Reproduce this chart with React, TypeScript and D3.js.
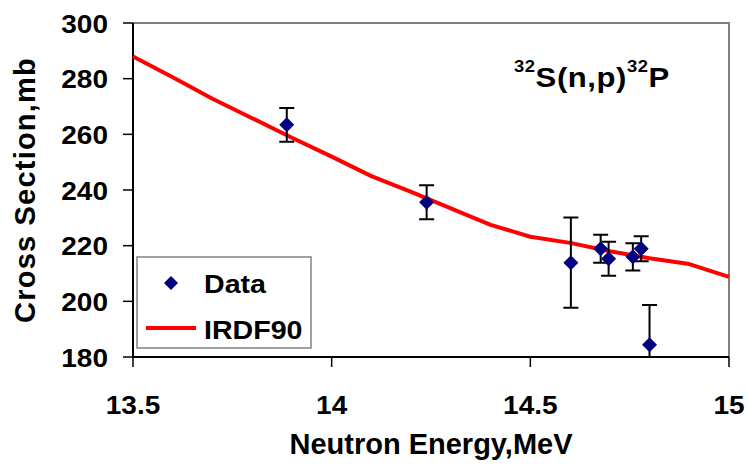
import React, { useRef, useEffect } from 'react';
import { select, scaleLinear, line } from 'd3';

// measured points: energy (MeV), cross section (mb), error (mb)
const energies = [13.887, 14.239, 14.602, 14.677, 14.697, 14.758, 14.779, 14.8];
const sigma = [263.4, 235.6, 213.9, 218.9, 215.3, 216.0, 218.9, 184.4];
const errors = [6.1, 6.1, 16.2, 5.0, 6.1, 4.9, 4.5, 14.3];

// IRDF90 evaluation
const evalEnergies = [13.5, 13.6, 13.7, 13.8, 13.9, 14.0, 14.1, 14.2, 14.3, 14.4, 14.5, 14.6, 14.7, 14.8, 14.9, 15.0];
const evalSigma = [288, 280.5, 272.8, 265.8, 258.8, 252, 245, 239.3, 233.4, 227.5, 223.2, 221, 218, 215.5, 213.4, 208.8];

const xTicks = [13.5, 14, 14.5, 15];
const yTicks = [180, 200, 220, 240, 260, 280, 300];

const W = 748;
const H = 466;
const margin = { left: 133, right: 19, top: 23, bottom: 109 };
const FONT = '"Liberation Sans", Arial, sans-serif';
const SX = 1.12; // reference glyphs are a bit wide

function CrossSectionChart() {
  const svgRef = useRef<SVGSVGElement>(null);

  useEffect(() => {
    const svg = select(svgRef.current);
    svg.selectAll('*').remove();

    const x = scaleLinear().domain([13.5, 15]).range([margin.left, W - margin.right]);
    const y = scaleLinear().domain([180, 300]).range([H - margin.bottom, margin.top]);
    const x0 = x(13.5), x1 = x(15), y0 = y(180), y1 = y(300);

    svg.append('clipPath').attr('id', 'plotclip')
      .append('rect').attr('x', x0).attr('y', y1).attr('width', x1 - x0).attr('height', y0 - y1);

    // plot frame (grey top/right)
    svg.append('path')
      .attr('d', `M${x0},${y1}H${x1}V${y0}`)
      .attr('fill', 'none').attr('stroke', '#808080').attr('stroke-width', 2);

    // axes
    svg.append('line').attr('x1', x0).attr('x2', x0).attr('y1', y1).attr('y2', y0)
      .attr('stroke', '#000').attr('stroke-width', 2);
    svg.append('line').attr('x1', x0 - 1).attr('x2', x1).attr('y1', y0).attr('y2', y0)
      .attr('stroke', '#000').attr('stroke-width', 2);

    // y ticks + labels
    svg.selectAll('.ytick').data(yTicks).join('line')
      .attr('class', 'ytick')
      .attr('x1', x0 - 10).attr('x2', x0)
      .attr('y1', d => y(d)).attr('y2', d => y(d))
      .attr('stroke', '#000').attr('stroke-width', 1.5);
    svg.selectAll('.ylabel').data(yTicks).join('text')
      .attr('class', 'ylabel')
      .attr('transform', d => `translate(108,${y(d) + 9.5}) scale(${SX},1)`)
      .attr('text-anchor', 'end')
      .style('font', `bold 25px ${FONT}`)
      .text(d => d);

    // x ticks + labels
    svg.selectAll('.xtick').data(xTicks).join('line')
      .attr('class', 'xtick')
      .attr('x1', d => x(d)).attr('x2', d => x(d))
      .attr('y1', y0).attr('y2', y0 + 10)
      .attr('stroke', '#000').attr('stroke-width', 1.5);
    svg.selectAll('.xlabel').data(xTicks).join('text')
      .attr('class', 'xlabel')
      .attr('transform', d => `translate(${x(d)},414) scale(${SX},1)`)
      .attr('text-anchor', 'middle')
      .style('font', `bold 25px ${FONT}`)
      .text(d => d);

    // axis titles
    svg.append('text')
      .attr('x', 431).attr('y', 454)
      .attr('text-anchor', 'middle')
      .style('font', `bold 29px ${FONT}`)
      .text('Neutron Energy,MeV');
    svg.append('text')
      .attr('transform', `translate(35,${(y0 + y1) / 2}) rotate(-90)`)
      .attr('text-anchor', 'middle')
      .attr('letter-spacing', 1.2)
      .style('font', `bold 29px ${FONT}`)
      .text('Cross Section,mb');

    // evaluation curve
    const curve = line<number>()
      .x((d, i) => x(evalEnergies[i]))
      .y(d => y(d));
    svg.append('path')
      .datum(evalSigma)
      .attr('d', curve)
      .attr('fill', 'none').attr('stroke', '#ff0000').attr('stroke-width', 4)
      .attr('stroke-linejoin', 'round');

    // error bars
    const bars = svg.append('g').attr('clip-path', 'url(#plotclip)');
    const idx = energies.map((e, i) => i);
    bars.selectAll('.err').data(idx).join('path')
      .attr('class', 'err')
      .attr('d', i => {
        const cx = x(energies[i]);
        const top = y(sigma[i] + errors[i]);
        const bot = y(sigma[i] - errors[i]);
        return `M${cx},${top}V${bot}M${cx - 7.5},${top}H${cx + 7.5}M${cx - 7.5},${bot}H${cx + 7.5}`;
      })
      .attr('fill', 'none').attr('stroke', '#000').attr('stroke-width', 2);

    // data diamonds
    const diamond = (cx: number, cy: number, r: number) =>
      `M${cx},${cy - r}L${cx + r},${cy}L${cx},${cy + r}L${cx - r},${cy}Z`;
    svg.selectAll('.pt').data(idx).join('path')
      .attr('class', 'pt')
      .attr('d', i => diamond(x(energies[i]), y(sigma[i]), 7.5))
      .attr('fill', '#000080');

    // reaction label
    const title = svg.append('text')
      .attr('transform', `translate(514,87) scale(1.15,1)`)
      .attr('letter-spacing', 0.5)
      .style('font', `bold 27px ${FONT}`);
    title.append('tspan').attr('font-size', 16).attr('dy', -15).text('32');
    title.append('tspan').attr('dy', 15).text('S(n,p)');
    title.append('tspan').attr('font-size', 16).attr('dy', -15).text('32');
    title.append('tspan').attr('dy', 15).text('P');

    // legend
    const lg = svg.append('g');
    lg.append('rect')
      .attr('x', 137).attr('y', 257).attr('width', 174).attr('height', 91)
      .attr('fill', '#fff').attr('stroke', '#808080').attr('stroke-width', 1.5);
    lg.append('path').attr('d', diamond(171, 283, 7)).attr('fill', '#000080');
    lg.append('line').attr('x1', 146).attr('x2', 196).attr('y1', 328).attr('y2', 328)
      .attr('stroke', '#ff0000').attr('stroke-width', 4);
    lg.append('text').attr('transform', `translate(204,293) scale(1.1,1)`)
      .style('font', `bold 26px ${FONT}`).text('Data');
    lg.append('text').attr('transform', `translate(204,339) scale(1.1,1)`)
      .style('font', `bold 26px ${FONT}`).text('IRDF90');
  }, []);

  return (
    <svg
      ref={svgRef}
      width={W}
      height={H}
      style={{ position: 'absolute', left: 0, top: 0, background: '#fff' }}
    />
  );
}

export default function App() {
  return <CrossSectionChart />;
}
